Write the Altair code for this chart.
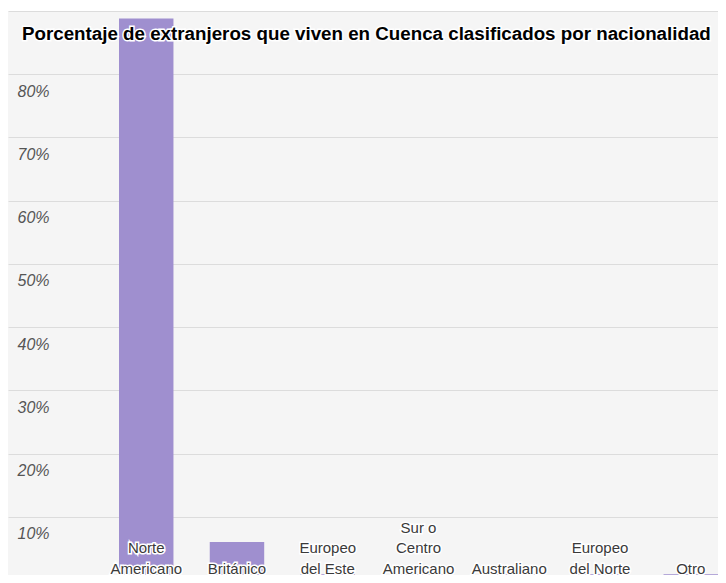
import altair as alt
import pandas as pd

categories = ["Norte\nAmericano", "Británico", "Europeo\ndel Este", "Sur o\nCentro\nAmericano",
              "Australiano", "Europeo\ndel Norte", "Otro"]
values = [88.8, 6.0, 0.9, 0.9, 0.9, 0.9, 0.9]
y_ticks = [10, 20, 30, 40, 50, 60, 70, 80, 90]
title_text = ["Porcentaje de extranjeros que viven en Cuenca clasificados por nacionalidad"]

# lines listed bottom-up so that every label's last line sits on the same baseline
labels = ["\n".join(reversed(c.split("\n"))) for c in categories]

df = pd.DataFrame({"cat": categories, "pct": values, "lab": labels})
tdf = pd.DataFrame({"t": title_text})

W, H = 710, 564

xscale = alt.Scale(paddingInner=0.4, paddingOuter=0.6115, align=1.0)
x = alt.X("cat:N", sort=None, axis=None, scale=xscale)
y = alt.Y(
    "pct:Q",
    scale=alt.Scale(domain=[0.8, 90], nice=False, zero=False),
    axis=alt.Axis(
        values=y_ticks, title=None, domain=False, ticks=False, tickSize=0,
        labelAlign="left", labelBaseline="top", labelPadding=-9, labelOffset=9,
        labelFont="Liberation Sans", labelFontStyle="italic", labelFontSize=16,
        labelColor="#555555", labelFlush=False, labelOverlap=False,
        labelExpr="datum.value >= 90 ? '' : datum.value + '%'",
        gridColor="#dcdcdc", gridWidth=1,
    ),
)

bars = alt.Chart(df).mark_bar(color="#9f8fcf", clip=True).encode(x=x, y=y)

lab_kw = dict(lineBreak="\n", baseline="alphabetic", align="center", fontSize=15,
              font="Liberation Sans", lineHeight=-20.5)
labels_back = alt.Chart(df).mark_text(stroke="white", strokeWidth=3, color="white", **lab_kw).encode(
    x=x, y=alt.value(H - 1.5), text="lab:N")
labels_front = alt.Chart(df).mark_text(color="#3a3a3a", **lab_kw).encode(
    x=x, y=alt.value(H - 1.5), text="lab:N")

t_kw = dict(align="left", baseline="alphabetic", fontSize=18.75, fontWeight="bold",
            font="Liberation Sans")
title_back = alt.Chart(tdf).mark_text(stroke="white", strokeWidth=3, color="white", **t_kw).encode(
    x=alt.value(14), y=alt.value(29), text="t:N")
title_front = alt.Chart(tdf).mark_text(color="#000000", **t_kw).encode(
    x=alt.value(14), y=alt.value(29), text="t:N")

chart = alt.layer(bars, labels_back, labels_front, title_back, title_front).properties(
    width=W, height=H,
    autosize=alt.AutoSizeParams(type="none"),
    padding={"left": 0, "top": 3, "right": 0, "bottom": 0},
    background="white",
).configure_view(fill="#f5f5f5", strokeWidth=0)

chart.save("out.html", embed_options={"renderer": "svg", "actions": False})
